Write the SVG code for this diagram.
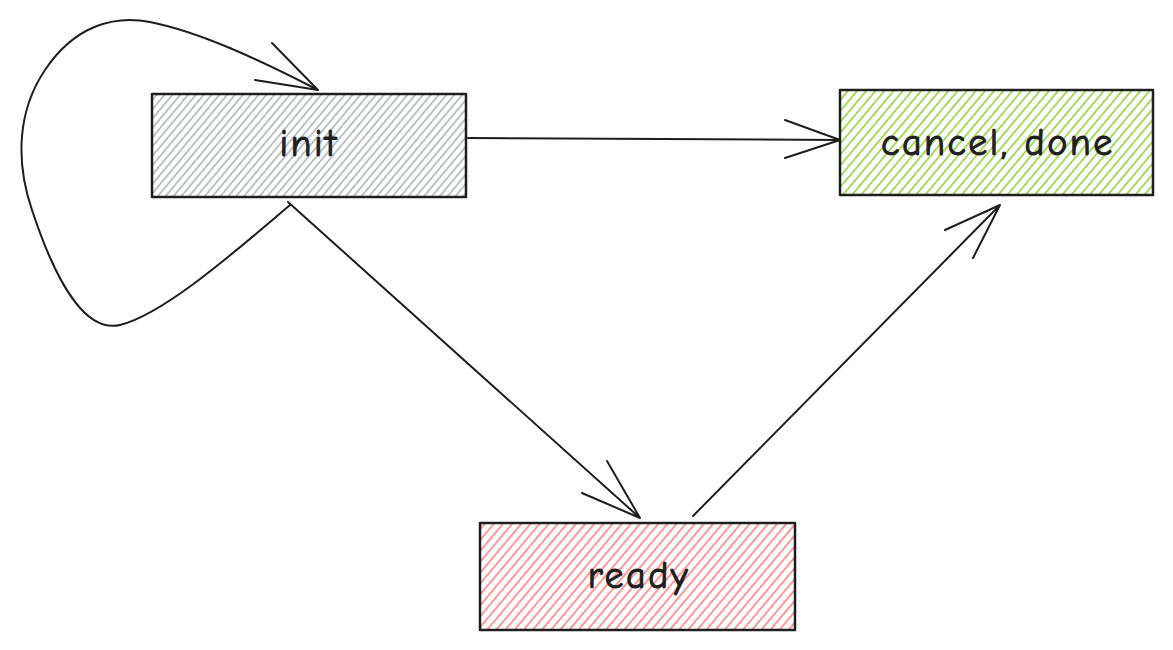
<svg xmlns="http://www.w3.org/2000/svg" width="1173" height="650" viewBox="0 0 1173 650">
<defs>
<pattern id="hg" width="6" height="6" patternUnits="userSpaceOnUse" patternTransform="rotate(40)"><line x1="1" y1="0" x2="1" y2="6" stroke="#868e96" stroke-width="1.1"/></pattern>
<pattern id="hgr" width="7" height="7" patternUnits="userSpaceOnUse" patternTransform="rotate(40)"><line x1="1" y1="0" x2="1" y2="7" stroke="#82c91e" stroke-width="1.4"/></pattern>
<pattern id="hr" width="7" height="7" patternUnits="userSpaceOnUse" patternTransform="rotate(40)"><line x1="1" y1="0" x2="1" y2="7" stroke="#ff6b6b" stroke-width="1.4"/></pattern>
<style>
.box{stroke:#1e1e1e;stroke-width:2.5;stroke-linejoin:round}
.lbl{font-family:"Comic Neue","Liberation Sans",sans-serif;font-size:38px;letter-spacing:2.5px;fill:#1e1e1e;stroke:#1e1e1e;stroke-width:1;text-anchor:middle;dominant-baseline:central}
.c{fill:none;stroke:#1e1e1e;stroke-width:2;stroke-linecap:round;stroke-linejoin:round}
</style>
</defs>
<g id="init">
<rect class="box" x="152" y="94" width="314" height="103" fill="url(#hg)"/>
<text class="lbl" x="309" y="144">init</text>
</g>
<g id="cancel-done">
<rect class="box" x="840" y="90" width="313" height="105" fill="url(#hgr)"/>
<text class="lbl" x="998" y="143">cancel, done</text>
</g>
<g id="ready">
<rect class="box" x="480" y="523" width="315" height="107" fill="url(#hr)"/>
<text class="lbl" x="639" y="576">ready</text>
</g>
<g id="connectors">
<path class="c" d="M468 138 L840 140 M785 120 L840 140 L785 158"/>
<path class="c" d="M288 202 L640 518 M607 461 L640 518 L582 493"/>
<path class="c" d="M693 516 L1000 205 M945 230 L1000 205 L973 258"/>
<path class="c" d="M290 205 C220 265 160 315 120 325 C90 332 60 295 32 210 C15 160 18 110 45 70 C75 25 115 15 150 22 C200 32 260 60 318 90 M272 43 L318 90 L255 80"/>
</g>
</svg>
